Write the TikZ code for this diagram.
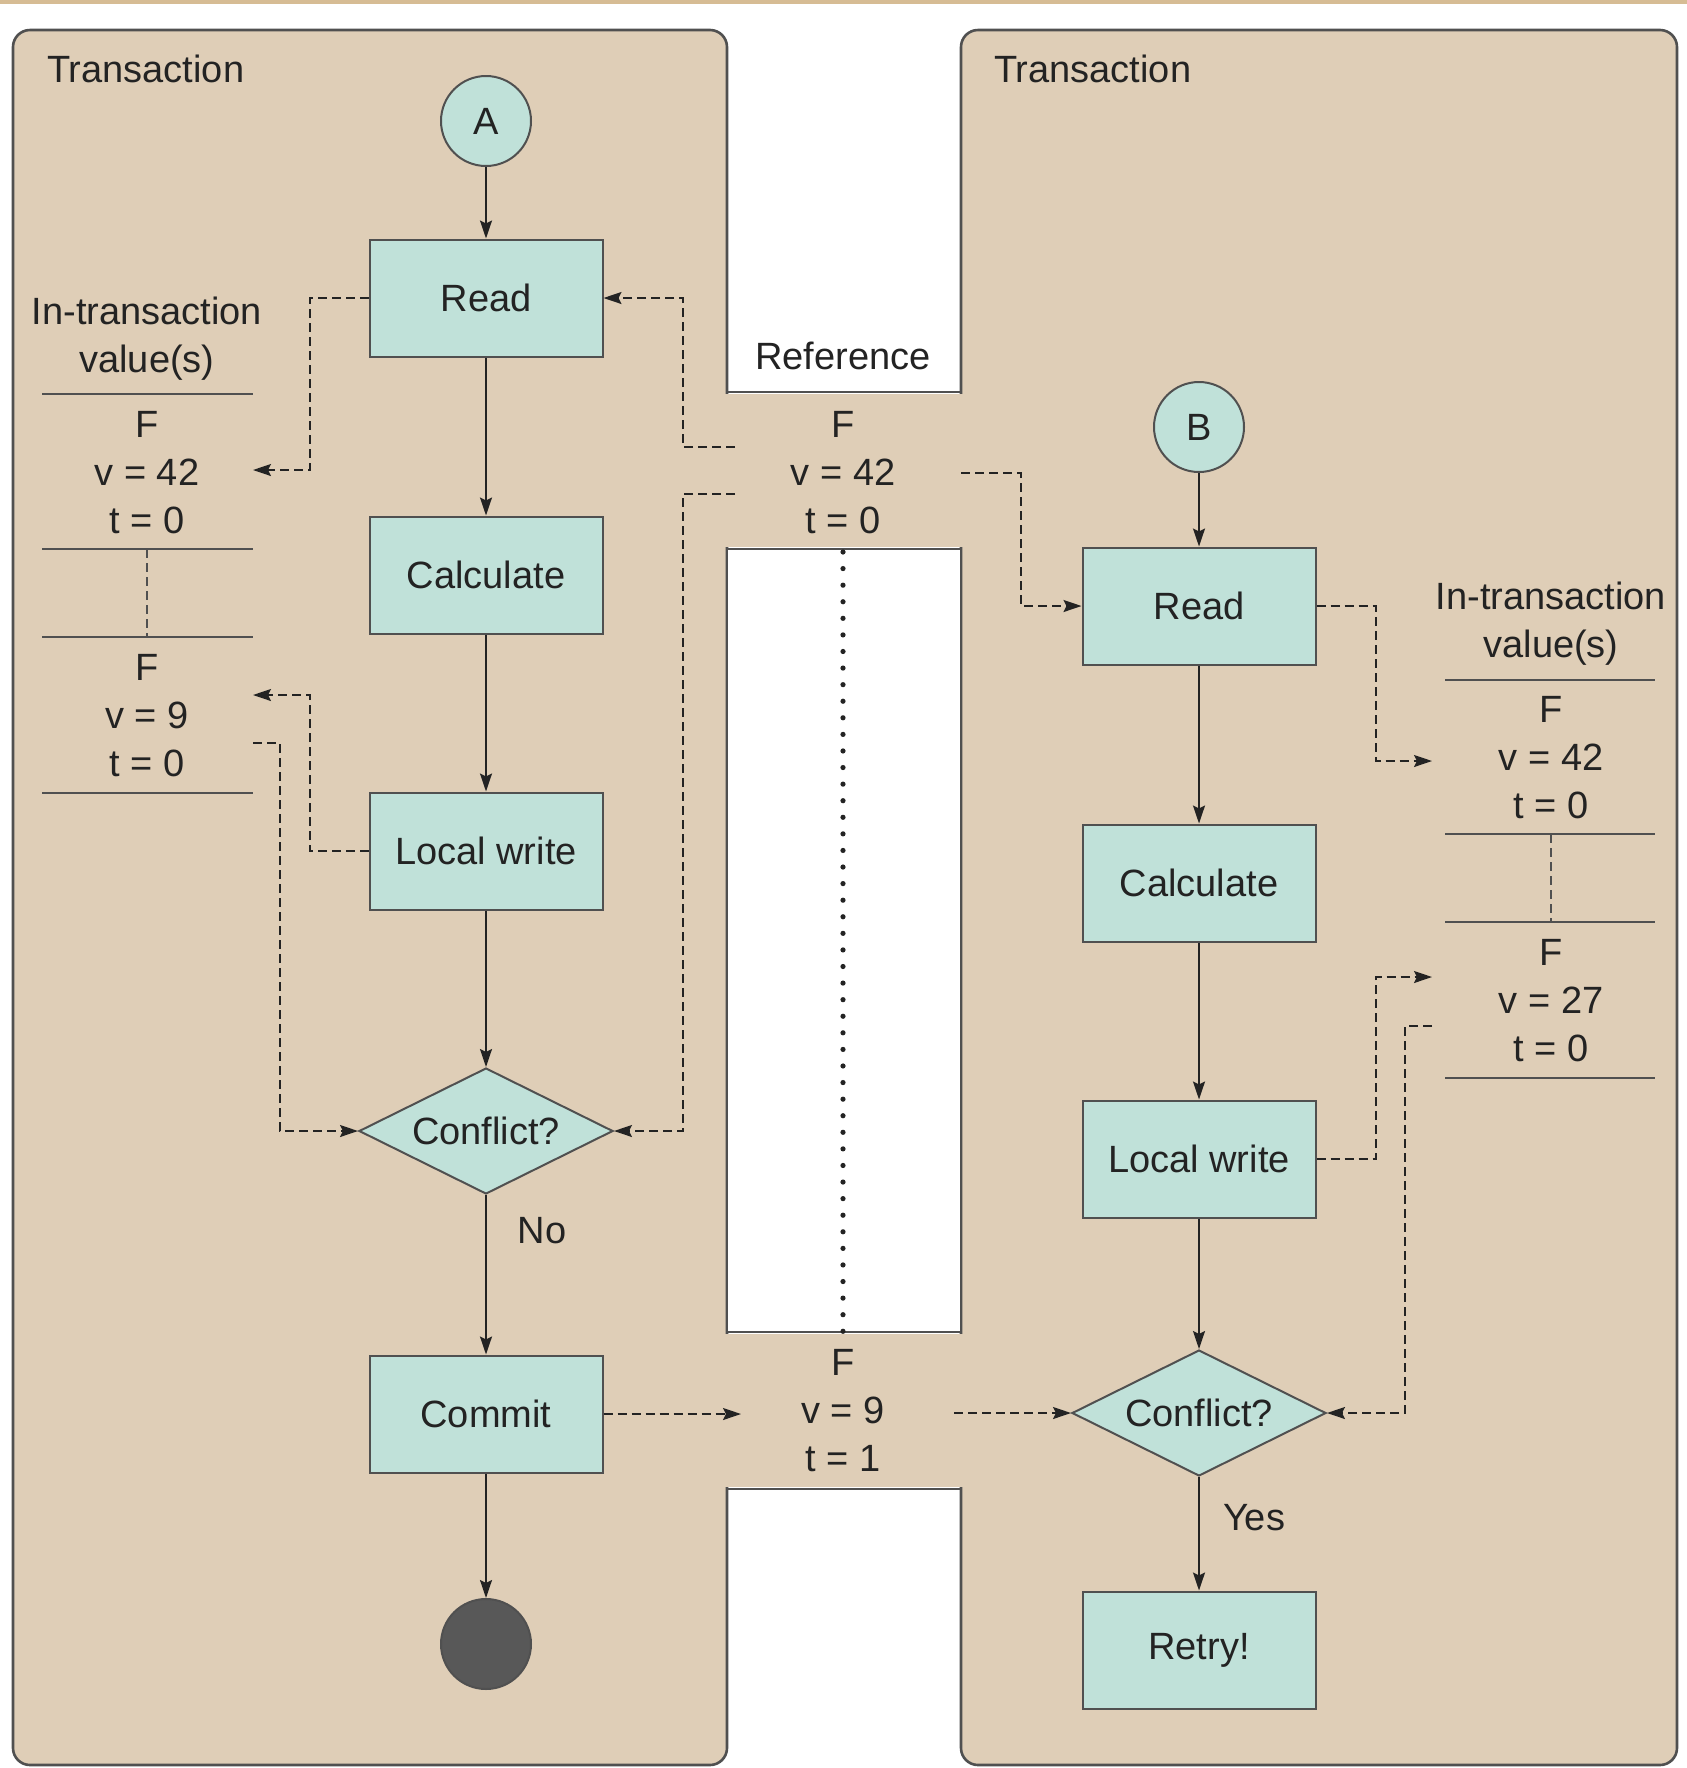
\documentclass[tikz,border=0pt]{standalone}
\usepackage{fontspec}
\setmainfont{Liberation Sans}
\usetikzlibrary{shapes.geometric,arrows.meta,calc}
\definecolor{panelfill}{RGB}{223,206,183}
\definecolor{boxfill}{RGB}{192,225,217}
\definecolor{edgegray}{RGB}{80,80,80}
\definecolor{ink}{RGB}{35,35,35}
\definecolor{endgray}{RGB}{88,88,88}
\definecolor{stripe}{RGB}{214,188,148}
\begin{document}
\begin{tikzpicture}[x=0.5pt,y=-0.5pt,
  font=\fontsize{19}{24}\selectfont,
  every node/.style={text=ink},
  proc/.style={draw=edgegray, line width=1pt, fill=boxfill, minimum width=116.5pt, minimum height=58.5pt, inner sep=0pt},
  decision/.style={diamond, draw=edgegray, line width=1pt, fill=boxfill, aspect=2, minimum width=127pt, minimum height=63pt, inner sep=0pt},
  startc/.style={circle, draw=edgegray, line width=1pt, fill=boxfill, minimum size=45pt, inner sep=0pt},
  endc/.style={circle, draw=edgegray, line width=1pt, fill=endgray, minimum size=45pt, inner sep=0pt},
  flow/.style={draw=ink, line width=1pt, -{Stealth[length=9pt,width=6pt,inset=1.5pt]}},
  dsh/.style={draw=ink, line width=1pt, dash pattern=on 4.5pt off 2.5pt, -{Stealth[length=9pt,width=6pt,inset=1.5pt]}},
  dshplain/.style={draw=edgegray, line width=1pt, dash pattern=on 4.5pt off 2.5pt},
  rulel/.style={draw=edgegray, line width=1pt},
  val/.style={align=center, inner sep=0pt},
  panel/.style={draw=edgegray, line width=1.3pt, fill=panelfill, rounded corners=8.5pt}
]
\useasboundingbox (0,0) rectangle (1687,1768);
\fill[white] (0,0) rectangle (1687,1768);
\fill[stripe] (0,0) rectangle (1687,4);

% panels
\path[panel] (13,30) rectangle (727,1765);
\path[panel] (961,30) rectangle (1677,1765);
\fill[panelfill] (724,394) rectangle (964,547);
\fill[panelfill] (724,1334) rectangle (964,1487);
\draw[rulel, line width=1.3pt] (727,392) -- (961,392);
\draw[rulel, line width=1.3pt] (727,1489) -- (961,1489);
\filldraw[fill=white, draw=edgegray, line width=1.3pt] (727,549) rectangle (961,1332);
\draw[ink, line width=2.6pt, line cap=round, dash pattern=on 0pt off 8.29pt] (843,552) -- (843,1332.1);

\node[anchor=west] (tL) at (40,69) {Transaction};
\node[anchor=west] (tR) at (987,69) {Transaction};
\node (refl) at (843,356) {Reference};

% left column
\node[startc] (A) at (486,121) {A};
\node[proc] (readL) at (486,298) {Read};
\node[proc] (calcL) at (486,575) {Calculate};
\node[proc] (lwL) at (486,851) {Local write};
\node[decision] (confL) at (486,1131) {Conflict?};
\node[proc] (commitL) at (486,1414) {Commit};
\node[endc] (endL) at (486,1644) {};
\node (noL) at (542,1231) {No};

\draw[flow] (A) -- (readL);
\draw[flow] (readL) -- (calcL);
\draw[flow] (calcL) -- (lwL);
\draw[flow] (lwL) -- (confL);
\draw[flow] (confL) -- (commitL);
\draw[flow] (commitL) -- (endL);

% right column
\node[startc] (B) at (1199,427) {B};
\node[proc] (readR) at (1199,606) {Read};
\node[proc] (calcR) at (1199,883) {Calculate};
\node[proc] (lwR) at (1199,1159) {Local write};
\node[decision] (confR) at (1199,1413) {Conflict?};
\node[proc] (retryR) at (1199,1650) {Retry!};
\node (yesR) at (1254,1518) {Yes};

\draw[flow] (B) -- (readR);
\draw[flow] (readR) -- (calcR);
\draw[flow] (calcR) -- (lwR);
\draw[flow] (lwR) -- (confR);
\draw[flow] (confR) -- (retryR);

% left values
\node[val] (intL) at (147,339) {In-transaction\\value(s)};
\node[val] (sL1) at (147,473) {F\\v = 42\\t = 0};
\node[val] (sL2) at (147,716) {F\\v = 9\\t = 0};
\draw[rulel] (42,394) -- (253,394);
\draw[rulel] (42,549) -- (253,549);
\draw[rulel] (42,637) -- (253,637);
\draw[rulel] (42,793) -- (253,793);
\draw[dshplain] (147,549) -- (147,637);

% middle values
\node[val] (sM1) at (843,473) {F\\v = 42\\t = 0};
\node[val] (sM2) at (843,1411) {F\\v = 9\\t = 1};

% right values
\node[val] (intR) at (1551,624) {In-transaction\\value(s)};
\node[val] (sR1) at (1551,758) {F\\v = 42\\t = 0};
\node[val] (sR2) at (1551,1001) {F\\v = 27\\t = 0};
\draw[rulel] (1445,680) -- (1655,680);
\draw[rulel] (1445,834) -- (1655,834);
\draw[rulel] (1445,922) -- (1655,922);
\draw[rulel] (1445,1078) -- (1655,1078);
\draw[dshplain] (1551,834) -- (1551,922);

% coordinates for dashed connectors
\coordinate (lv42) at (253,470);
\coordinate (lv9in) at (253,695);
\coordinate (lv9out) at (253,743);
\coordinate (mv42a) at (735,447);
\coordinate (mv42b) at (735,494);
\coordinate (mv42c) at (961,473);
\coordinate (mv9a) at (741,1414);
\coordinate (mv9b) at (954,1413);
\coordinate (rv42) at (1432,761);
\coordinate (rv27) at (1432,977);
\coordinate (rv27out) at (1432,1026);

\draw[dsh] (readL.west) -- ++(-59,0) |- (lv42);
\draw[dsh] (lwL.west) -- ++(-59,0) |- (lv9in);
\draw[dsh] (lv9out) -- ++(27,0) |- (confL.west);
\draw[dsh] (mv42a) -- ++(-52,0) |- (readL.east);
\draw[dsh] (mv42b) -- ++(-52,0) |- (confL.east);
\draw[dsh] (mv42c) -- ++(60,0) |- (readR.west);
\draw[dsh] (commitL.east) -- (mv9a);
\draw[dsh] (mv9b) -- (confR.west);
\draw[dsh] (readR.east) -- ++(59,0) |- (rv42);
\draw[dsh] (lwR.east) -- ++(59,0) |- (rv27);
\draw[dsh] (rv27out) -- ++(-27,0) |- (confR.east);
\end{tikzpicture}
\end{document}
